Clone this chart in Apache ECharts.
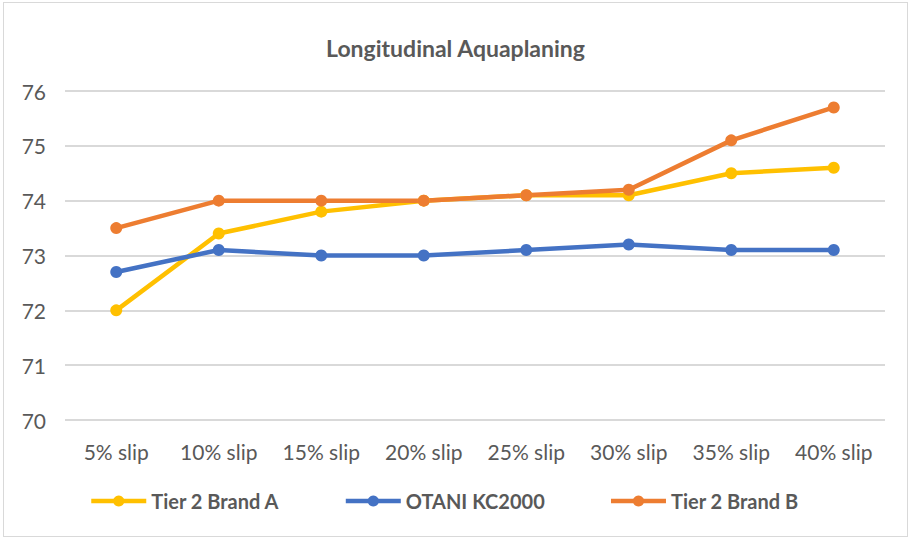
<!DOCTYPE html>
<html>
<head>
<meta charset="utf-8">
<script src="https://cdn.jsdelivr.net/npm/echarts@6/dist/echarts.min.js"></script>
<style>
  html, body { margin: 0; padding: 0; background: #fff; }
  #chart {
    position: absolute; left: 3px; top: 2px;
    width: 905px; height: 535px;
    border: 1px solid #d9d9d9; box-sizing: border-box;
  }
</style>
</head>
<body>
<div id="chart"></div>
<script>
const categories = ["5% slip", "10% slip", "15% slip", "20% slip", "25% slip", "30% slip", "35% slip", "40% slip"];
const brandA = [72.0, 73.4, 73.8, 74.0, 74.1, 74.1, 74.5, 74.6];
const otani = [72.7, 73.1, 73.0, 73.0, 73.1, 73.2, 73.1, 73.1];
const brandB = [73.5, 74.0, 74.0, 74.0, 74.1, 74.2, 75.1, 75.7];

const fontFamily = "Lato, 'Open Sans', sans-serif";

const chart = echarts.init(document.getElementById("chart"), null, { renderer: "svg" });

function line(name, data, color) {
  return {
    name: name,
    type: "line",
    data: data,
    symbol: "circle",
    symbolSize: 12,
    lineStyle: { width: 4.5, color: color },
    itemStyle: { color: color },
  };
}

const option = {
  animation: false,
  color: ["#FFC000", "#4472C4", "#ED7D31"],
  title: {
    text: "Longitudinal Aquaplaning",
    left: "center",
    top: 28,
    textStyle: { fontFamily: fontFamily, fontSize: 23, fontWeight: "bold", color: "#595959" },
  },
  legend: {
    top: 483,
    left: 80,
    itemGap: 64,
    itemWidth: 55,
    itemHeight: 14,
    lineStyle: { width: 4.5 },
    textStyle: { fontFamily: fontFamily, fontSize: 20, fontWeight: "bold", color: "#595959" },
    data: ["Tier 2 Brand A", "OTANI KC2000", "Tier 2 Brand B"],
  },
  grid: { left: 61, right: 22, top: 88, bottom: 116 },
  xAxis: {
    type: "category",
    data: categories,
    boundaryGap: true,
    axisLine: { show: false },
    axisTick: { show: false },
    axisLabel: { fontFamily: fontFamily, fontSize: 21, color: "#595959", margin: 21 },
  },
  yAxis: {
    type: "value",
    min: 70,
    max: 76,
    interval: 1,
    axisLine: { show: false },
    axisTick: { show: false },
    axisLabel: { fontFamily: fontFamily, fontSize: 21, color: "#595959", margin: 19 },
    splitLine: { lineStyle: { color: "#d9d9d9", width: 2 } },
  },
  series: [
    line("Tier 2 Brand A", brandA, "#FFC000"),
    line("OTANI KC2000", otani, "#4472C4"),
    line("Tier 2 Brand B", brandB, "#ED7D31"),
  ],
};
chart.setOption(option);
</script>
</body>
</html>
